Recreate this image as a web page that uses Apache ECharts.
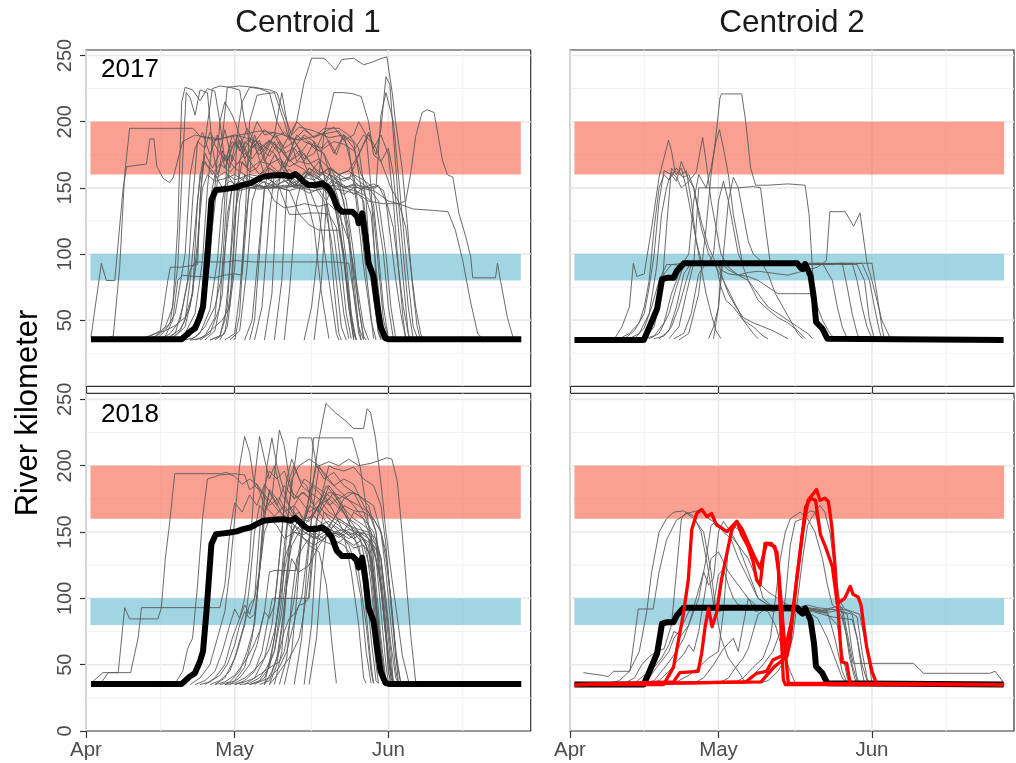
<!DOCTYPE html>
<html>
<head>
<meta charset="utf-8">
<script src="https://cdn.jsdelivr.net/npm/echarts@6/dist/echarts.min.js"></script>
<style>
html, body { margin: 0; padding: 0; background: #fff; }
#chart { width: 1016px; height: 763px; }
</style>
</head>
<body>
<div id="chart"></div>
<script>
// x = days after 1 April, y = river kilometer
const monthTicks = [0, 30, 61];
const monthLabels = ['Apr', 'May', 'Jun'];
const monthMinor = [15, 45.5, 76];
const kmMajor = [50, 100, 150, 200, 250];
const kmMinor = [25, 75, 125, 175, 225];
const redBand = [160, 200];
const blueBand = [80, 100];
const bandDays = [0.9, 87.7];

// centroid tracks (day, km, day, km, ...)
const centroid1 = [1,35.5, 19.3,35.5, 20.9,41, 22,43.8, 23,52.6, 23.6,60, 24.3,90, 25.3,141, 26.2,148.4, 27.7,149, 29,149.6, 30.4,150.5, 31.7,152.2, 33.1,153.4, 34.4,156, 35.8,158.5, 37.5,159.3, 39.8,159.7, 41.3,158.5, 42.2,160.5, 42.9,158.5, 43.9,154.7, 44.9,152.2, 46.3,152.2, 47.6,153.4, 48.6,150.9, 49.6,145.9, 50.6,135.8, 51.6,132, 53.7,132, 54.7,128.2, 55,123.2, 55.7,130.7, 56.4,113.1, 57,93, 58,82.9, 58.7,62.7, 59.4,45.1, 60.4,36.3, 61.1,35.5, 87.8,35.5];
const centroid2 = [0.9,35, 14.9,35, 15.9,43.5, 17.6,58.6, 18.6,81, 19.6,82, 20.9,82, 21.6,87.3, 23,93, 45.9,93, 46.5,90, 47,88.6, 47.5,92.5, 48.6,83.6, 49.3,66, 49.7,48.6, 51,43.5, 52,36, 87.6,35];

// individual fish, 2017, centroid 1
const grey2017c1 = [
  [1,37, 3.1,93, 4.1,80, 5.8,80, 7.5,150, 8.2,166, 12.2,168, 12.9,187, 13.7,187, 14.3,166, 15.6,157, 16.9,154, 17.6,158, 19.5,185, 22,190, 26,186, 30,190, 34,186, 38,176, 41,160, 44,150, 46,120, 47.5,70, 49,36],
  [3,35, 5.5,38, 6.8,90, 7.8,160, 8.8,195, 21.6,195, 23,189, 27,187, 31,190, 35,193, 39,191, 43,186, 47,190, 51,193, 53,180, 54.5,140, 56,90, 57.5,50, 58.5,35],
  [12,35, 14,38, 16,45, 17.5,60, 18.5,120, 19.3,215, 20,226, 21.5,224, 23,216, 24.5,225, 26,223, 27,200, 28,170, 29.5,185, 31,178, 33,188, 35,180, 37,186, 40,176, 42,180, 44,190, 46,185, 48,175, 50,150, 52,100, 53,60, 54,35],
  [13,35, 15,40, 17,48, 18.5,90, 19.5,170, 20.2,222, 21,218, 22,205, 23,224, 24.5,222, 25.5,180, 26.5,160, 28,175, 30,165, 32,160, 35,155, 38,152, 41,156, 44,150, 47,153, 50,140, 52,100, 53.5,50, 54.5,35],
  [14,35, 16,42, 18,55, 20,100, 21,160, 22,180, 23.5,192, 25,175, 26.5,190, 28,165, 29.5,182, 31,186, 33,170, 35,160, 37,168, 40,158, 43,150, 45,150, 47,130, 49,80, 50.5,40, 51,35],
  [15,35, 17,40, 19,50, 20.5,80, 21.5,140, 22.5,185, 24,180, 25,192, 26,186, 27.5,187, 28.5,226, 31,227, 34,226, 37,224, 38.5,222, 40,205, 41.5,190, 43,196, 46,193, 49,188, 52,190, 54,184, 55.5,150, 57,100, 58.5,55, 59.5,36],
  [16,35, 18,38, 20,45, 21.5,70, 22.5,140, 23.5,170, 25,165, 26.5,158, 28,162, 30,156, 33,160, 36,158, 39,162, 42,152, 45,160, 48,155, 50,148, 52,130, 53.5,100, 55,60, 56,36],
  [17,35, 19,42, 21,60, 22.5,100, 23.2,150, 24,176, 25.5,165, 27,176, 28.5,170, 30,185, 31.5,176, 33,186, 35,175, 37,185, 39,176, 41,190, 42.5,200, 44,230, 45.5,248, 48,248, 49.6,242, 50.3,239, 51.6,247, 54,248, 56,243, 57.7,245, 59.7,248, 60.7,249, 61.8,221, 62.4,201, 63.8,164, 64.8,123, 65.8,78, 66.8,45, 67.5,35],
  [18,35, 20,40, 22,55, 23.5,95, 24.5,150, 25.5,186, 27,176, 28,194, 29.5,170, 31,186, 32.5,165, 34,190, 36,170, 38,185, 40,165, 42,180, 44,170, 46,185, 48,160, 49,120, 50,75, 51,40, 51.5,35],
  [19,35, 21,38, 23,50, 24,100, 25,140, 26,160, 27.5,150, 29,155, 31,151, 33,150, 36,150, 40,150, 43,152, 46,150, 48.5,150, 50,140, 51.5,110, 53,70, 54,40, 54.5,35],
  [20,35, 22,45, 24,70, 25.5,120, 26.5,155, 27.5,178, 29,165, 30.5,190, 32,172, 34,183, 36,160, 38,175, 40,162, 42,186, 44,172, 46,176, 48,192, 50,176, 52,190, 54,160, 55.5,120, 57,70, 58,36],
  [21,35, 23,40, 25,58, 26.5,95, 27.5,140, 28.5,160, 30,152, 32,158, 34,150, 36,155, 38,140, 40,135, 42,136, 44,138, 47,136, 49,138, 51,130, 53,110, 54.5,80, 56,45, 57,35],
  [22,35, 24,38, 26,52, 27.5,110, 28.5,175, 29.5,190, 31,180, 32.5,195, 34,185, 36,194, 38,188, 40,192, 42,186, 44,194, 46,188, 48,195, 51,195, 53,190, 55,180, 56.5,140, 57.5,80, 59,40, 60,35],
  [11,35, 13,38, 15,42, 16.5,80, 17,90, 19,90, 21,91, 22.5,92, 23,140, 24,185, 25.5,225, 27,227, 29,226, 31,224, 32,200, 33,185, 34.5,200, 36,190, 38,192, 40,180, 42,185, 44,175, 47,160, 49,165, 51,140, 52.5,95, 53.5,55, 54.5,35],
  [14,35, 16,38, 17.5,50, 18.5,80, 19.5,84, 22,83, 24,83, 26,82, 28,84, 30,85, 31.5,84, 32.5,130, 33.5,185, 35,178, 37,186, 39,180, 41,170, 43,178, 45,160, 47,170, 49,150, 51,155, 53,120, 54,80, 55,45, 55.5,35],
  [16,35, 18,40, 19.5,60, 21,88, 22,94, 24,94, 26,94, 28.5,94, 30,95, 34,94, 38,94, 42,94, 46,94, 50,94, 53,93, 54,70, 55,45, 56,35],
  [23,35, 25,40, 27,60, 28,120, 29,176, 30.5,168, 32,176, 33.5,172, 35,180, 37,174, 39,185, 41,170, 43,175, 45,185, 47,178, 49,186, 50.5,175, 52,190, 54,180, 55.5,160, 57,150, 58,130, 59,90, 60,50, 61,36],
  [24,35, 26,42, 27.5,70, 28.5,130, 29.5,150, 31,148, 33,150, 35,149, 37,150, 39,150, 41,148, 43,150, 45,146, 47,149, 48.5,140, 50,115, 51,85, 52,55, 53,36],
  [25,35, 27,38, 28.5,60, 29.5,120, 30.5,190, 31.5,215, 33,226, 35,225, 37,222, 38.5,200, 40,190, 42,186, 44,188, 46,180, 48,176, 50,160, 52,155, 54,160, 56,156, 58,150, 60,100, 61,60, 62,36],
  [26,35, 28,40, 29.5,80, 30.5,150, 31.5,170, 33,162, 34.5,165, 36,175, 38,190, 39.5,222, 41,190, 42.5,170, 44,176, 46,165, 48,160, 50,155, 52,150, 54,148, 56,145, 58,138, 59,100, 60,60, 61,36],
  [27,35, 28.5,45, 30,90, 31,140, 32,160, 34,150, 36,158, 38,154, 40,160, 42,152, 44,158, 46,156, 48,162, 50,158, 52,150, 54,152, 56,148, 57.5,130, 58.5,90, 59.5,55, 60.5,36],
  [28,35, 30,40, 31,70, 32,120, 33,150, 35,152, 37,150, 40,151, 43,152, 46,150, 49,152, 52,151, 55,150, 58,148, 61,140, 63,138, 64.5,140, 65.5,161, 66.5,189, 67.8,207, 68.8,209, 70.2,207, 71.2,186, 71.9,171, 72.9,160, 74,158, 75.2,131, 76.6,113, 77.6,98, 78,82, 82.6,82, 83,93, 83.6,80, 85,52, 86.2,36],
  [29,35, 31,42, 32.5,90, 33.5,140, 34.5,152, 37,150, 40,152, 43,150, 46,148, 49,150, 52,148, 55,145, 57,140, 60,138, 63,138, 66,134, 70,133, 73,132, 74.5,118, 76,95, 77.5,65, 79,40, 80,36],
  [20,35, 22,37, 24,45, 26,60, 27.5,85, 28.5,120, 29.5,152, 31,154, 33,152, 35,160, 37,165, 39,158, 41,164, 43,155, 45,162, 47,151, 49,160, 51,156, 53,158, 55,152, 57,150, 59,140, 60.5,100, 61.5,60, 62.5,36],
  [30,35, 31,55, 32,120, 33,200, 34.5,220, 36,221, 38,222, 40,200, 41,186, 42.5,200, 44,195, 46,188, 48,192, 50,196, 52,186, 54,190, 55,200, 56.5,190, 57.5,150, 58.5,80, 59.5,40, 60,35],
  [32,35, 33.5,50, 35,110, 36,150, 37.5,155, 39,150, 41,148, 43,130, 45,122, 47,118, 49,118, 51,118, 52,95, 53,60, 54,36],
  [34,35, 35.5,60, 37,130, 38,160, 39.5,165, 41,175, 42.5,190, 44,185, 46,182, 48,180, 50,185, 52,183, 54,178, 56,190, 57.5,185, 58.5,175, 59.5,195, 60.5,234, 61.3,228, 62,190, 63,140, 64,100, 65,60, 66,36],
  [36,35, 37.5,70, 38.5,140, 39.5,170, 41,160, 43,150, 45,165, 47,160, 48,190, 50,222, 52,222, 54,221, 55.5,219, 57,200, 58,175, 59.5,170, 61,180, 62,160, 63,120, 64,80, 65,40, 65.5,35],
  [38,35, 39.5,80, 40.5,150, 42,160, 44,156, 46,150, 48,150, 50,157, 52,152, 54,145, 56,150, 58.5,150, 59.5,205, 60.5,222, 62,200, 63,160, 64,120, 65,80, 66,45, 67,35],
  [40,35, 41,70, 42.5,140, 43.5,155, 45,162, 47,158, 49,165, 51,160, 53,156, 55,175, 57,192, 58,180, 59.5,190, 61,175, 62,140, 63,90, 64,50, 64.5,36],
  [25,35, 27,38, 28,50, 29,90, 30,130, 31,150, 32.5,152, 34,152, 35.5,150, 37,152, 39,150, 41,130, 43,130, 45,131, 47,131, 49,130, 50.5,120, 51.5,90, 52.5,55, 53.5,36],
  [10,35, 12,37, 14,40, 16,42, 18,46, 20,52, 21.5,70, 22.5,110, 23.5,150, 24.5,160, 26,155, 28,157, 30,160, 32,155, 34,153, 36,150, 38,152, 40,160, 42,150, 44,155, 46,152, 48,140, 49.5,110, 50.5,80, 51.5,45, 52.5,35],
  [21,35, 23,36, 24.5,40, 26,45, 27.5,50, 29,60, 30,120, 31,170, 32,185, 33.5,180, 35,186, 37,160, 38,150, 40,156, 42,150, 44,162, 46,159, 48,153, 50,160, 52,140, 53,110, 54,70, 55,40, 55.5,35],
  [18,35, 20,38, 22,48, 23.5,65, 25,95, 26,150, 27,200, 28,215, 29.5,205, 31,190, 32.5,176, 34,186, 36,178, 38,190, 40,175, 42,168, 44,164, 46,155, 48,150, 50,152, 52,145, 54,150, 56,140, 57,110, 58,70, 59,40, 59.5,35],
  [44,35, 45.5,60, 47,110, 48,150, 49.5,165, 51,160, 53,163, 55,175, 57,190, 58.5,180, 60,165, 61.5,150, 63,140, 64.5,120, 65.5,90, 66.5,60, 67.5,40, 68,35],
  [15,35, 17,38, 19,43, 20,50, 21,80, 22,120, 23,160, 24,170, 25.5,160, 27,168, 29,162, 31,170, 33,164, 35,170, 37,168, 39,172, 41,166, 43,170, 45,168, 47,172, 49,165, 51,160, 52.5,140, 54,100, 55,60, 56,38, 56.5,35],
  [33,35, 34,50, 35,100, 36,150, 37,165, 39,160, 41,152, 43,156, 45,165, 47,158, 49,152, 51,160, 53,163, 55,155, 57,150, 59,152, 60.5,140, 61.5,110, 62.5,80, 63.5,55, 64.5,36],
  [46,35, 47.5,80, 48.5,140, 50,155, 52,150, 54,153, 56,150, 58,153, 60,148, 62,120, 63,90, 64,60, 65,40, 65.5,35]
];

// individual fish, 2018, centroid 1
const grey2018c1 = [
  [1,36, 3.4,44, 6.5,44, 7.8,93, 8.8,84.5, 14.5,84.5, 15.2,93, 16,130, 16.9,158, 17.9,194, 27.3,194, 28.3,195, 30,192, 31.5,186, 33,190, 34.5,186, 36,178, 37.5,172, 39,165, 41,160, 43,150, 45,140, 47,135, 48.5,110, 49.5,70, 50.5,36],
  [3,36, 4.5,44, 9,44, 10.5,70, 11.2,93, 27,93, 28,110, 29,150, 30,172, 31.5,165, 33,178, 34.5,170, 36,186, 38,175, 40,160, 42,150, 44,145, 46,140, 48,145, 50,150, 52,148, 53.5,120, 55,80, 56,40, 56.5,36],
  [18,36, 19.5,45, 20.5,62, 21.5,70, 22.5,110, 23.5,160, 24.5,190, 27,193, 30,194, 32,193, 33,182, 34.5,186, 36,170, 38,162, 40,170, 42,160, 44,150, 46,145, 48,150, 50,144, 52,140, 54,130, 55.5,100, 56.5,60, 57.5,36],
  [21,35, 23,40, 25,50, 26.5,70, 28,90, 29,120, 30,160, 31,200, 32,222, 33,210, 34,185, 35.5,180, 37,170, 39,176, 41,160, 43,165, 45,150, 47,155, 49,158, 51,150, 53,140, 55,120, 56.5,80, 57.5,45, 58,36],
  [22,35, 24,38, 26,45, 27.5,60, 29,80, 30,92, 31,85, 32,100, 33,130, 34,190, 35,222, 36,205, 37,190, 38,200, 39.5,178, 41,170, 43,160, 45,150, 47,145, 49,150, 51,146, 53,150, 55,140, 56.5,110, 57.5,70, 58.5,38, 59,36],
  [24,35, 26,40, 28,50, 29.5,70, 31,85, 32,95, 33,88, 34,100, 35,150, 36,185, 37,196, 38.5,190, 40,196, 41.5,180, 43,175, 45,165, 47,170, 49,160, 51,155, 53,148, 55,150, 57,140, 58,110, 59,70, 60,40, 60.5,36],
  [25,35, 27,38, 29,45, 30.5,60, 32,80, 33,110, 34,150, 35,170, 36,165, 37.5,176, 39,227, 40,215, 41,190, 42,200, 43.5,185, 45,180, 47,175, 49,165, 51,160, 53,155, 55,150, 57,145, 58.5,130, 59.5,90, 60.5,50, 61,36],
  [26,35, 28,40, 30,55, 31.5,75, 33,95, 34,100, 35,120, 36,150, 37,160, 38.5,155, 40,145, 42,150, 44,148, 46,155, 48,150, 50,160, 52,175, 54,180, 56,165, 57.5,150, 58.5,110, 59.5,70, 60.5,38, 61,36],
  [27,35, 29,37, 31,45, 32.5,60, 34,80, 35,120, 36,165, 37,180, 38.5,170, 40,185, 42,175, 44,190, 46,185, 48,180, 50,175, 52,165, 54,150, 56,140, 57.5,120, 58.5,80, 59.5,45, 60,36],
  [28,35, 30,38, 32,48, 33.5,70, 34.5,100, 35.5,150, 36.5,200, 37.5,221, 38.5,200, 40,180, 41.5,165, 43,160, 45,150, 47,152, 49,148, 51,150, 53,145, 55,150, 56.5,125, 57.5,90, 58.5,50, 59,36],
  [29,35, 31,40, 33,50, 34.5,65, 36,90, 37,120, 38,121, 42.4,121, 43.5,150, 45,175, 46.5,200, 48,195, 50,185, 52,178, 54,170, 56,160, 57.5,145, 59,120, 60,90, 61,55, 62,36],
  [30,35, 32,38, 34,45, 35.5,60, 36.5,80, 37.6,100, 44.9,100, 45.5,130, 46.5,160, 48,170, 50,180, 52,165, 54,150, 56,145, 57.5,130, 58.5,100, 59.5,60, 60.5,36],
  [32,35, 34,40, 36,55, 37.5,80, 38.5,110, 39.5,150, 40.5,190, 41.5,205, 43,190, 44.5,185, 46,170, 48,178, 50,165, 52,150, 54,145, 56,150, 58,140, 59.5,110, 60.5,70, 61.5,40, 62,36],
  [33,35, 35,38, 37,48, 38,70, 39,100, 40,140, 41,170, 42.8,221, 45.5,221, 46.5,200, 48,190, 50,195, 52,185, 54,180, 56,175, 58,170, 59.5,150, 60.5,120, 61.5,80, 62.5,45, 63,36],
  [36,35, 38,70, 40,130, 42,150, 44,158, 45.2,170, 47,220, 48.4,247, 50.3,240, 52.3,234, 54,228, 56,228, 56.7,243, 57.4,240, 58.4,221, 59.7,180, 60.5,150, 61.7,115, 63,80, 63.8,57, 65.1,37],
  [34,35, 36,40, 38,60, 39.5,100, 40.5,150, 41.5,190, 43,200, 45,205, 47,200, 49,203, 51,200, 53,205, 55,200, 57.7,202, 60.7,206, 61.7,205, 62.8,188, 63.8,148, 64.8,103, 65.5,72, 66.5,37],
  [37,35, 38.5,50, 40,90, 41,140, 42,170, 43.5,180, 45,176, 45.9,221, 53.7,221, 54.7,208, 55.3,199, 56.5,170, 57.5,140, 58.5,100, 59.5,60, 60.5,36],
  [38,35, 39.5,60, 40.5,110, 41.5,150, 43,160, 45,158, 47,170, 49,200, 50,198, 52,196, 54,199, 56,190, 58,185, 59.5,170, 60.5,140, 61.5,95, 62.5,55, 63.5,36],
  [39,35, 40.5,55, 41.5,100, 42.5,130, 44,140, 46,150, 48,145, 50,155, 52,150, 54,165, 56,160, 58,150, 59.5,130, 60.5,95, 61.5,60, 62,36],
  [31,35, 33,36, 35,40, 36.5,48, 38,60, 39.5,90, 40.5,120, 41.5,140, 43,150, 45,160, 47,170, 49,180, 51,178, 53,174, 55,170, 57,165, 58.5,150, 59.5,110, 60.5,70, 61,45, 61.5,36],
  [23,35, 25,37, 27,42, 28.5,50, 30,65, 31,80, 32,90, 33,85, 34,88, 35,120, 36,160, 37,182, 38.5,175, 40,165, 42,170, 44,160, 46,162, 48,155, 50,150, 52,152, 54,148, 55.5,130, 56.5,90, 57.5,50, 58,36],
  [35,35, 37,38, 38.5,55, 39.5,80, 40.5,110, 41.5,130, 43,120, 45,125, 47,140, 49,150, 51,160, 53,155, 55,152, 57,150, 58.5,145, 59.5,130, 60.5,90, 61.5,50, 62,36],
  [40,35, 41.5,60, 42.5,100, 43.5,150, 45,170, 47,165, 49,185, 51,175, 53,180, 55,178, 57,170, 58.5,150, 59.5,120, 60.5,80, 61,45, 61.5,36],
  [26,35, 28,37, 30,42, 32,52, 33.5,62, 35,75, 36,90, 37,85, 38,95, 39,130, 40,170, 41,190, 42,175, 44,180, 46,170, 48,160, 50,150, 52,145, 54,140, 56,145, 57.5,130, 58.5,95, 59.5,55, 60,36],
  [42,35, 43.5,70, 44.5,120, 45.5,160, 47,170, 49,175, 51,168, 53,160, 55,150, 57,148, 58.5,140, 59.5,110, 60.5,75, 61.5,45, 62,36],
  [44,35, 45.5,80, 46.5,140, 48,165, 50,160, 52,170, 54,166, 56,165, 58,160, 59.5,150, 60.5,130, 61.5,100, 62.5,60, 63,36],
  [30,35, 32,37, 34,40, 36,45, 38,50, 39,52, 40,60, 41,80, 42,100, 43,130, 44,160, 45.5,185, 47,180, 49,170, 51,176, 53,160, 55,155, 57,145, 58,120, 59,80, 60,45, 60.5,36],
  [33,35, 35,37, 37,40, 39,48, 40.5,60, 41.5,75, 42.5,90, 43.5,100, 44.5,130, 45.5,160, 47,200, 48.5,190, 50,185, 52,190, 54,186, 56,170, 58,160, 59.5,150, 60.5,135, 61.5,100, 62.5,60, 63.5,36],
  [28,35, 30,36, 32,40, 34,46, 36,55, 37,62, 38,75, 39,95, 40,120, 41,140, 42,155, 44,150, 46,146, 48,143, 50,140, 52,145, 54,138, 56,140, 57,135, 58,110, 59,70, 60,40, 60.5,36],
  [45,35, 46.5,70, 47.5,120, 48.5,150, 50,160, 52,156, 54,150, 56,145, 58,140, 59.5,130, 60.5,100, 61.5,65, 62.5,40, 63,36],
  [36,35, 37.5,45, 39,60, 40,75, 41,85, 42,88, 43,95, 44,96, 45,100, 46,140, 47,170, 48.5,185, 50,178, 52,168, 54,160, 56,155, 57.5,150, 58.5,140, 59.5,110, 60.5,70, 61.5,40, 62,36],
  [37,35, 38.5,42, 40,50, 41,55, 42,62, 43,70, 44,90, 45,120, 46,150, 47,155, 49,150, 51,148, 53,152, 55,150, 56.5,140, 57.5,110, 58.5,70, 59.5,40, 60,36]
];

// individual fish, 2017, centroid 2
const grey2017c2 = [
  [9,36, 10.5,45, 12,60, 12.8,93, 13.5,83, 15,85, 16.5,120, 18,158, 19.9,186, 20.5,178, 21.2,163, 22.9,158, 24,160, 25,150, 26.5,120, 28,100, 29.5,90, 31,80, 33,65, 35,50, 37,40, 38,36],
  [10,36, 12,40, 14,48, 15,60, 16,80, 17,120, 18,150, 19,160, 20,156, 21.5,165, 22.5,160, 23.5,163, 24.5,140, 25.5,110, 26.5,95, 28,92, 31,92, 34,92, 37,93, 40,92, 44,93, 48,92, 52,93, 55,92, 57,93, 58,80, 59,60, 60,45, 61,36],
  [11,36, 13,42, 15,55, 16,75, 17,100, 18,140, 19,163, 20.5,160, 21.5,155, 22.5,170, 23.5,160, 25,150, 26.5,125, 28,105, 29.5,93, 32,92, 36,93, 40,93, 44,92, 48,93, 51,93, 53,80, 54,60, 55,45, 56,36],
  [12,36, 14,40, 16,55, 17.5,90, 18.5,130, 19.5,150, 20.5,162, 21.5,158, 22.5,150, 24,155, 25.5,162, 26.8,188, 27.5,170, 28.5,140, 29.5,120, 30.5,100, 32,90, 34,84, 36,80, 38,70, 40,60, 42,55, 44,50, 46,45, 48,40, 49,36],
  [13,36, 15,44, 16.5,60, 18,80, 19.5,92, 21,92, 22.5,91, 24,100, 25,140, 26,160, 27.5,150, 28.5,165, 29.5,185, 30.2,194, 31,180, 32,160, 33,130, 34,110, 35,90, 36,80, 38,65, 40,58, 42,52, 44,48, 46,42, 47.5,36],
  [22,35, 24,40, 26,70, 27.5,120, 28.5,160, 29.5,190, 30.3,218, 30.6,221, 34.7,221, 35.5,200, 36.5,165, 37.5,152, 40,152, 44,153, 47.5,152, 48.3,130, 49.3,70, 50,60, 51,50, 52.5,40, 53.5,36],
  [14,36, 16,40, 17.5,55, 19,85, 20.5,92, 23,93, 25,92, 26,150, 28,150, 31,150, 34,150, 37,151, 38.5,150, 39.5,120, 40.5,92, 43,93, 46,92, 50,92, 54,93, 58,93, 61,93, 62,70, 63,45, 63.5,36],
  [15,36, 17,38, 19,48, 20.5,70, 22,85, 23.5,92, 26,92, 28,93, 29,100, 30,140, 31,155, 32,140, 33,120, 34,100, 35,92, 38,92, 42,93, 46,93, 50,92, 53,93, 56,92, 59,93, 60.5,80, 61.5,60, 62.5,42, 63,36],
  [16,36, 18,40, 20,55, 21.5,75, 23,92, 27,93, 29.5,93, 30.5,88, 32,85, 34,84, 36,86, 38,87, 40,86, 42,85, 44,84, 46,86, 48,88, 50,90, 51.8,95, 52.5,132, 55.6,132, 57.3,121, 58.6,131, 60,93, 61,80, 62,65, 63,50, 64.5,38, 65.3,36],
  [18,36, 20,42, 21.5,60, 23,85, 24.5,93, 28,93, 30,92, 31,80, 32,70, 33.5,60, 35,52, 37,48, 39,45, 41,42, 43,38, 44,36],
  [20,36, 22,45, 23.5,70, 25,93, 28,93, 29.5,92, 30.5,75, 31.5,65, 33,60, 35,50, 37,45, 39,38, 40,36],
  [28,36, 29,45, 30,60, 30.6,93, 32,88, 34,84, 36,83, 38,80, 40,75, 42,70, 44.5,70, 48.5,70, 49.5,60, 50.5,45, 51.5,36],
  [17,36, 19,38, 20.5,45, 22,60, 23.5,80, 24.5,92, 26,93, 30,93, 34,92, 38,93, 42,92, 46,93, 49,92, 52,92, 55,93, 58,92, 59.5,80, 60.5,50, 61.5,36],
  [21,36, 23,40, 24.5,55, 26,85, 27.5,93, 30,92, 32,93, 35,92, 38,93, 41,92, 44,93, 47,92, 50,93, 53,92, 55,93, 56,75, 57,55, 58,40, 58.5,36],
  [15,36, 17,45, 18.5,70, 19.5,120, 20.5,165, 21.5,160, 22.5,165, 23.5,150, 24.5,130, 25.5,110, 26.5,90, 27.5,70, 28.5,55, 29.5,42, 30.5,36],
  [29,36, 30,60, 31,100, 32,140, 33,158, 34,150, 35,130, 36,110, 37,100, 38.5,95, 40,85, 41.5,70, 43,60, 44.5,50, 46,40, 47,36]
];

// individual fish, 2018, centroid 2
const grey2018c2 = [
  [2.7,44, 4.5,43, 6.5,42, 7.7,41, 8.8,45, 12.1,45, 13,70, 13.8,92, 16.8,92, 18,120, 19.5,144, 21.5,159, 23.6,164, 26.6,167, 28,160, 30,156, 32,150, 34,140, 36,120, 38,100, 40,95, 42,94, 44,92, 46,93, 48,90, 50,85, 52,70, 54,50, 55,40, 56,36],
  [8,36, 10,38, 12,45, 14,60, 15.5,90, 16.5,120, 18,150, 19.5,160, 21,165, 23,166, 25,160, 27,150, 28.5,120, 29.5,90, 30.5,70, 32,55, 34,45, 35.5,36],
  [11,36, 13,40, 14.5,50, 16,56, 17.5,60, 19,62, 20.5,80, 21.5,120, 22.5,160, 23.5,165, 25,162, 26.5,150, 28,120, 29,95, 30,90, 32,92, 34,95, 36,93, 38,92, 40,94, 42,93, 44,90, 46,92, 48,93, 50,92, 52,90, 53.5,70, 55,45, 56,36],
  [13,36, 15,42, 17,48, 18.5,55, 20,65, 21,75, 22.5,72, 24,80, 25.5,100, 27,120, 28,110, 29,115, 30,150, 31,158, 32.5,150, 34,140, 36,130, 38,112, 40,105, 42,100, 44,95, 46,92, 48,93, 50,90, 52,92, 54,91, 56,88, 57,60, 58,40, 58.5,36],
  [15,36, 17,38, 18.5,45, 20,52, 21.5,60, 23,70, 24.5,85, 26,100, 27.5,130, 28.5,155, 29.5,158, 31,150, 32.5,145, 34,130, 36,115, 38,100, 40,95, 42,92, 44,94, 46,92, 48,95, 50,93, 52,92, 54,94, 55,93, 57.2,51, 69.4,51, 71.4,43.5, 84.8,43.5, 85.9,45, 87.5,37],
  [16,36, 18,38, 20,45, 21.5,52, 23,58, 24,65, 25,60, 26,75, 27.5,110, 28.5,130, 30,135, 32,120, 34,110, 36,100, 37.5,95, 39,92, 41,90, 43,92, 45,90, 47,92, 49,90, 51,88, 53,86, 55,85, 57,84, 58,70, 59,50, 60,38, 60.5,36],
  [20,36, 22,38, 24,42, 26,48, 28,55, 30,60, 31,90, 32,140, 33,155, 34.5,150, 36,140, 37.5,120, 39,100, 40.5,95, 42,92, 44,94, 46,92, 48,90, 50,92, 52,88, 54,80, 55,60, 56,40, 56.5,36],
  [25,36, 27,40, 29,50, 31,62, 33,70, 34,60, 35,80, 36,100, 37.5,90, 39,92, 41,94, 43,92, 45,90, 47,93, 49,92, 51,90, 53,92, 55,90, 57,88, 58,70, 59,45, 59.5,36],
  [33,36, 35,40, 37,48, 39,55, 40.5,70, 41.5,100, 42.5,130, 43.5,150, 44.5,160, 46.5,165, 48,160, 49.5,150, 51,130, 52,110, 53,95, 54,92, 55,85, 56,70, 57,50, 58,38, 58.5,36],
  [35,36, 37,42, 39,50, 41,60, 42.5,75, 43.5,100, 44.5,140, 45.5,158, 47,160, 48.5,166, 49.5,165, 50.5,150, 51.5,140, 52.5,130, 53.5,110, 54.5,95, 55.5,80, 56.5,55, 57.5,40, 58,36],
  [38,36, 40,38, 42,45, 43.5,55, 45,70, 46,100, 47,130, 48,155, 49,162, 50.5,170, 51.5,165, 52.5,150, 53.5,120, 54.5,98, 55.5,92, 57,90, 58.5,88, 59.5,70, 60.5,50, 61,36],
  [30,36, 32,40, 33.5,48, 35,55, 36,62, 37,75, 38,88, 39.5,92, 41,93, 43,90, 45,92, 47,94, 49,91, 51,89, 53,90, 55,92, 56.5,90, 58,86, 59,60, 60,40, 60.5,36],
  [14,36, 16,40, 17.5,48, 19,55, 20,60, 21,70, 22,75, 23,82, 24,90, 25,92, 27,93, 29,95, 30,118, 31,122, 32,110, 33,100, 34,95, 36,94, 38,92, 40,90, 41.5,80, 43,60, 44.5,45, 45.5,36]
];

// highlighted fish, 2018, centroid 2
const red2018c2 = [
  [0.9,35, 18.9,35, 20.9,48, 22.9,88, 23.9,114, 24.6,152, 25.6,164, 26.6,167, 27.7,161.6, 28.6,164, 29.6,155.4, 31.7,150.3, 33.7,158, 34.7,148, 36,139, 37,127.7, 37.7,114, 38.4,110, 39.4,141.5, 40.7,141.5, 41.8,135, 42.4,109, 43.4,64, 44.1,36, 87.7,35],
  [0.9,35, 20.9,37, 22.2,44, 25.9,45, 26.6,58.6, 27.3,78.7, 28,92.5, 28.7,78.7, 29.6,88.7, 30.6,114, 31.7,134, 32.7,151.6, 33.7,158, 34.8,152, 36,142, 37.2,132, 38.4,122.7, 39.7,141.5, 41.4,139, 42.1,121.4, 43.1,38.5, 43.5,35, 87.7,35],
  [0.9,35, 35.5,37, 37.7,43.5, 39.7,45, 41,53.5, 42.4,56, 43.8,56, 44.4,66, 45.8,114, 47.1,152, 48.1,174, 49.2,179, 49.8,182, 50.5,174, 51.5,175.5, 52.2,173, 52.9,154, 53.5,126.5, 54.2,88.7, 54.9,52, 55.9,51, 56.6,36, 87.7,35],
  [0.9,35, 38.6,37, 41.3,48.5, 43,53.5, 44.8,84, 46.6,139, 47.6,169, 48.6,175.5, 49.6,174, 50.6,148, 51.6,139, 53,124, 54,96, 55.5,100, 56.6,109, 57.2,103, 58.2,101, 58.8,95, 59.9,64, 61,45, 62,35, 87.7,35]
];

const FONT = '"Liberation Sans", Arial, Helvetica, sans-serif';
const X_MAX = 89.7;
const pairs = flat => {
  const out = [];
  for (let i = 0; i < flat.length; i += 2) out.push([flat[i], flat[i + 1]]);
  return out;
};

// panel layout: 0 = 2017/C1, 1 = 2017/C2, 2 = 2018/C1, 3 = 2018/C2
const panels = [
  { left: 86, top: 50, width: 444.7, height: 336.3, yMax: 254.2, isLeft: true, isBottom: false, yTicks: kmMajor },
  { left: 570, top: 50, width: 444, height: 336.3, yMax: 254.2, isLeft: false, isBottom: false, yTicks: [] },
  { left: 86, top: 393.3, width: 444.7, height: 337.7, yMax: 254.6, isLeft: true, isBottom: true, yTicks: [0].concat(kmMajor) },
  { left: 570, top: 393.3, width: 444, height: 337.7, yMax: 254.6, isLeft: false, isBottom: true, yTicks: [] }
];
const greyByPanel = [grey2017c1, grey2017c2, grey2018c1, grey2018c2];
const centroidByPanel = [centroid1, centroid2, centroid1, centroid2];

const grid = [], xAxis = [], yAxis = [], series = [];

panels.forEach((p, i) => {
  grid.push({
    left: p.left, top: p.top, width: p.width, height: p.height,
    show: true, borderColor: '#333333', borderWidth: 1.2, backgroundColor: 'transparent'
  });
  xAxis.push({
    type: 'value', gridIndex: i, min: 0, max: X_MAX,
    axisLine: { show: false },
    splitLine: { show: false },
    axisTick: { show: true, customValues: monthTicks, length: 7, lineStyle: { color: '#333333', width: 1.2 } },
    axisLabel: {
      show: p.isBottom, customValues: monthTicks, margin: 9,
      color: '#4d4d4d', fontSize: 20.5, fontFamily: FONT,
      formatter: v => monthLabels[monthTicks.indexOf(v)] || ''
    }
  });
  yAxis.push({
    type: 'value', gridIndex: i, min: 0, max: p.yMax,
    axisLine: { show: false },
    splitLine: { show: false },
    axisTick: { show: p.isLeft, customValues: p.yTicks, length: 6, lineStyle: { color: '#333333', width: 1.2 } },
    axisLabel: {
      show: p.isLeft, customValues: p.yTicks, rotate: 90, margin: 11,
      color: '#4d4d4d', fontSize: 20, fontFamily: FONT
    }
  });

  // panel grid lines (from the tick values)
  const addRule = (data, major) => series.push({
    type: 'line', xAxisIndex: i, yAxisIndex: i, data: data, silent: true, z: 0,
    symbol: 'none', animation: false,
    lineStyle: { color: major ? '#e9e9e9' : '#f1f1f1', width: major ? 1.6 : 1 }
  });
  kmMajor.forEach(v => addRule([[0, v], [X_MAX, v]], true));
  kmMinor.forEach(v => addRule([[0, v], [X_MAX, v]], false));
  monthTicks.forEach(v => addRule([[v, 0], [v, p.yMax]], true));
  monthMinor.forEach(v => addRule([[v, 0], [v, p.yMax]], false));

  // habitat bands
  series.push({
    type: 'line', xAxisIndex: i, yAxisIndex: i, silent: true, z: 1,
    data: [[bandDays[0], blueBand[0]]], symbol: 'none', lineStyle: { width: 0 }, animation: false,
    markArea: {
      silent: true, z: 1, animation: false,
      label: { show: false },
      data: [
        [{ xAxis: bandDays[0], yAxis: redBand[0], itemStyle: { color: 'rgba(247,120,100,0.7)' } }, { xAxis: bandDays[1], yAxis: redBand[1] }],
        [{ xAxis: bandDays[0], yAxis: blueBand[0], itemStyle: { color: 'rgba(120,195,212,0.7)' } }, { xAxis: bandDays[1], yAxis: blueBand[1] }]
      ]
    }
  });

  greyByPanel[i].forEach(track => series.push({
    type: 'line', xAxisIndex: i, yAxisIndex: i, data: pairs(track), silent: true, z: 2,
    symbol: 'none', animation: false,
    lineStyle: { color: '#5a5a5a', width: 0.9, join: 'round' }
  }));

  series.push({
    type: 'line', xAxisIndex: i, yAxisIndex: i, data: pairs(centroidByPanel[i]), silent: true, z: 3,
    symbol: 'none', animation: false,
    lineStyle: { color: '#000000', width: 6, join: 'round' }
  });
});

red2018c2.forEach(track => series.push({
  type: 'line', xAxisIndex: 3, yAxisIndex: 3, data: pairs(track), silent: true, z: 4,
  symbol: 'none', animation: false,
  lineStyle: { color: '#ff0000', width: 3.3, join: 'round' }
}));

const chart = echarts.init(document.getElementById('chart'), null, { renderer: 'canvas' });
chart.setOption({
  animation: false,
  backgroundColor: '#ffffff',
  textStyle: { fontFamily: FONT },
  grid: grid,
  xAxis: xAxis,
  yAxis: yAxis,
  series: series,
  graphic: [
    { type: 'text', x: 308, y: 23, style: { text: 'Centroid 1', font: '31.5px ' + FONT, fill: '#1a1a1a', textAlign: 'center', textVerticalAlign: 'middle' } },
    { type: 'text', x: 792, y: 23, style: { text: 'Centroid 2', font: '31.5px ' + FONT, fill: '#1a1a1a', textAlign: 'center', textVerticalAlign: 'middle' } },
    { type: 'text', x: 28, y: 413, rotation: Math.PI / 2, style: { text: 'River kilometer', font: '31px ' + FONT, fill: '#000000', textAlign: 'center', textVerticalAlign: 'middle' } },
    { type: 'text', x: 101, y: 70, z: 10, style: { text: '2017', font: '26px ' + FONT, fill: '#000000', textAlign: 'left', textVerticalAlign: 'middle' } },
    { type: 'text', x: 101, y: 415, z: 10, style: { text: '2018', font: '26px ' + FONT, fill: '#000000', textAlign: 'left', textVerticalAlign: 'middle' } }
  ]
});
</script>
</body>
</html>
